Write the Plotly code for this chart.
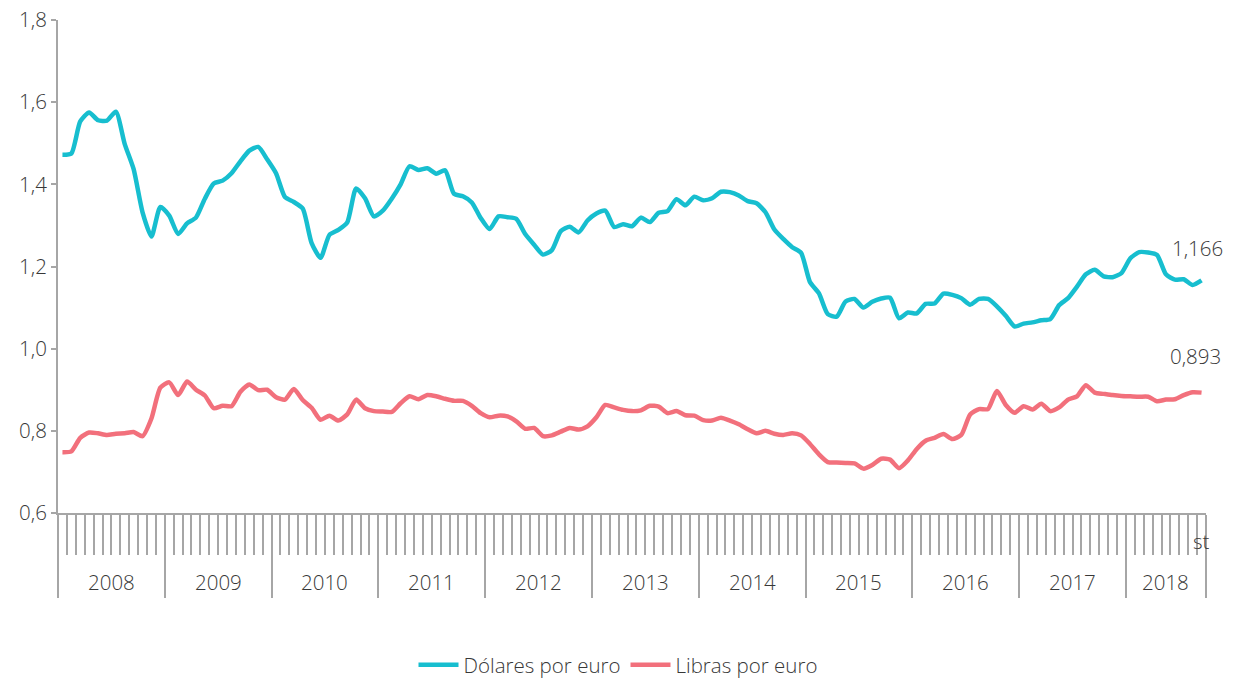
import plotly.graph_objects as go

# medias mensuales, ene-2008 a sep-2018
years = ['2008', '2009', '2010', '2011', '2012', '2013', '2014', '2015', '2016', '2017', '2018']
months_in_year = [12, 12, 12, 12, 12, 12, 12, 12, 12, 12, 9]

usd = [
    1.472, 1.475, 1.553, 1.575, 1.556, 1.555, 1.577, 1.498, 1.437, 1.332, 1.273, 1.345,
    1.324, 1.279, 1.305, 1.319, 1.365, 1.402, 1.409, 1.427, 1.456, 1.482, 1.491, 1.461,
    1.427, 1.369, 1.357, 1.341, 1.257, 1.221, 1.277, 1.289, 1.307, 1.390, 1.366, 1.322,
    1.336, 1.365, 1.400, 1.444, 1.435, 1.439, 1.426, 1.434, 1.377, 1.371, 1.356, 1.318,
    1.291, 1.322, 1.320, 1.316, 1.279, 1.253, 1.229, 1.240, 1.286, 1.297, 1.283, 1.312,
    1.329, 1.336, 1.296, 1.303, 1.298, 1.319, 1.308, 1.331, 1.335, 1.364, 1.349, 1.370,
    1.361, 1.366, 1.382, 1.381, 1.373, 1.359, 1.354, 1.332, 1.290, 1.267, 1.247, 1.233,
    1.162, 1.135, 1.084, 1.078, 1.115, 1.121, 1.100, 1.114, 1.122, 1.124, 1.074, 1.088,
    1.086, 1.109, 1.110, 1.134, 1.131, 1.123, 1.107, 1.121, 1.121, 1.103, 1.080, 1.054,
    1.061, 1.064, 1.069, 1.072, 1.106, 1.123, 1.151, 1.181, 1.192, 1.176, 1.174, 1.184,
    1.220, 1.235, 1.234, 1.228, 1.181, 1.168, 1.169, 1.155, 1.166,
]

gbp = [
    0.748, 0.750, 0.783, 0.796, 0.794, 0.790, 0.793, 0.794, 0.797, 0.787, 0.830, 0.905,
    0.918, 0.887, 0.920, 0.900, 0.886, 0.855, 0.861, 0.860, 0.895, 0.913, 0.899, 0.900,
    0.882, 0.876, 0.902, 0.875, 0.856, 0.827, 0.837, 0.825, 0.840, 0.876, 0.855, 0.848,
    0.847, 0.846, 0.867, 0.884, 0.877, 0.887, 0.884, 0.878, 0.873, 0.873, 0.861, 0.843,
    0.833, 0.837, 0.835, 0.823, 0.805, 0.807, 0.787, 0.789, 0.798, 0.807, 0.803, 0.811,
    0.833, 0.863, 0.857, 0.851, 0.848, 0.850, 0.861, 0.859, 0.843, 0.848, 0.838, 0.837,
    0.826, 0.825, 0.832, 0.825, 0.816, 0.804, 0.794, 0.800, 0.793, 0.790, 0.794, 0.789,
    0.768, 0.743, 0.724, 0.723, 0.722, 0.721, 0.708, 0.717, 0.732, 0.730, 0.709, 0.728,
    0.756, 0.776, 0.783, 0.792, 0.780, 0.790, 0.840, 0.853, 0.853, 0.897, 0.863, 0.844,
    0.860, 0.852, 0.866, 0.848, 0.857, 0.876, 0.884, 0.911, 0.893, 0.890, 0.887, 0.885,
    0.884, 0.883, 0.883, 0.872, 0.876, 0.877, 0.887, 0.894, 0.893,
]

last_usd_label = '1,166'
last_gbp_label = '0,893'

blue = '#17BECF'
pink = '#F2707C'
grey = '#A6A6A6'
text_col = '#383838'
font_family = '"Open Sans", Lato, sans-serif'
fw = 300
fs = 20.5

n = len(usd)
xs = list(range(n))

# limites de año (para las divisiones largas) y centros (para las etiquetas)
year_edges = [-0.5]
year_centers = []
for m in months_in_year:
    year_centers.append(year_edges[-1] + m / 2)
    year_edges.append(year_edges[-1] + m)

fig = go.Figure()
fig.add_trace(go.Scatter(x=xs, y=usd, mode='lines', name='Dólares por euro',
                         line=dict(color=blue, width=4.5, shape='spline', smoothing=0.6)))
fig.add_trace(go.Scatter(x=xs, y=gbp, mode='lines', name='Libras por euro',
                         line=dict(color=pink, width=4.5, shape='spline', smoothing=0.6)))

txt_font = dict(size=fs, color=text_col, weight=fw)

for yr, xc in zip(years, year_centers):
    fig.add_annotation(x=xc, y=-0.14, xref='x', yref='paper', text=yr, showarrow=False,
                       font=txt_font, yanchor='middle')

fig.add_annotation(x=n - 1, y=-0.057, xref='x', yref='paper', text='st', showarrow=False,
                   font=txt_font, yanchor='middle')

fig.add_annotation(x=n - 1, y=usd[-1], text=last_usd_label, showarrow=False,
                   font=txt_font, yshift=32, xshift=-4)
fig.add_annotation(x=n - 1, y=gbp[-1], text=last_gbp_label, showarrow=False,
                   font=txt_font, yshift=37, xshift=-6)

fig.update_layout(
    width=1236, height=680,
    margin=dict(l=58, r=30, t=20, b=167, autoexpand=False),
    paper_bgcolor='white', plot_bgcolor='white',
    separators=',.',
    font=dict(family=font_family, size=fs, color=text_col, weight=fw),
    showlegend=True,
    legend=dict(orientation='h', x=0.5, xanchor='center', xref='container',
                y=0.022, yanchor='middle', yref='container',
                font=txt_font, itemwidth=40, tracegroupgap=0),
)

fig.update_yaxes(range=[0.6, 1.8], dtick=0.2, tickformat='.1f', showgrid=False,
                 zeroline=False, showline=True, linecolor=grey, linewidth=2,
                 ticks='outside', ticklen=5, tickcolor=grey, tickwidth=2, automargin=False,
                 tickfont=txt_font)

fig.update_xaxes(range=[-0.5, n - 0.5], showgrid=False, zeroline=False,
                 showline=True, linecolor=grey, linewidth=2, automargin=False,
                 tickmode='array', tickvals=year_edges, showticklabels=False,
                 ticks='outside', ticklen=83, tickcolor=grey, tickwidth=1.5,
                 minor=dict(dtick=1, tick0=-0.5, ticks='outside', ticklen=40,
                            tickcolor=grey, tickwidth=1.5))

# la pagina trae margen de 8px en el body; se quita para que cuadre con 1236x680
fig.write_html('out.html', config={'displayModeBar': False},
               post_script="document.body.style.margin='0';")
